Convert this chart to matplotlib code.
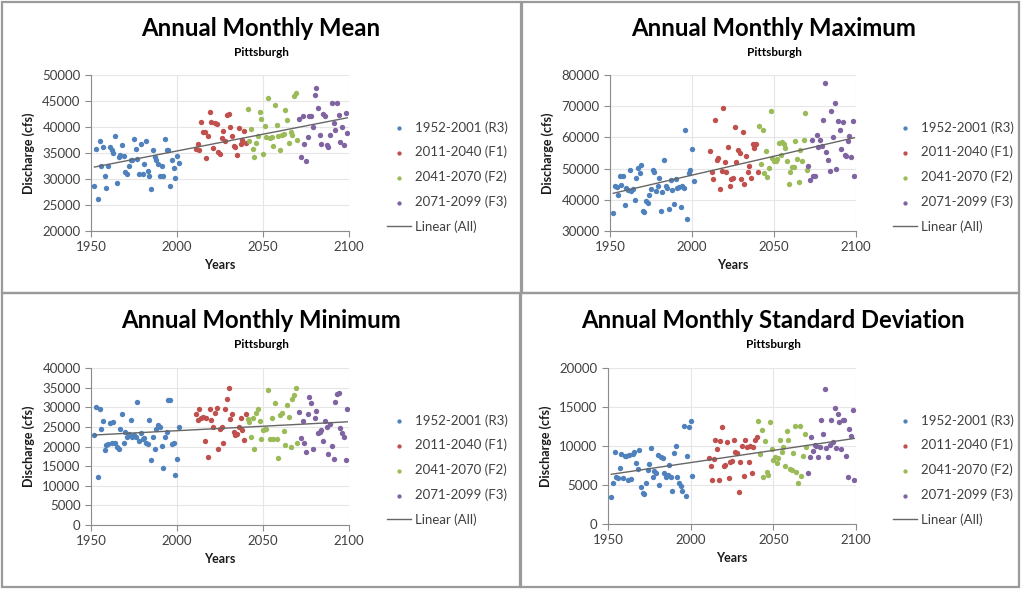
import numpy as np
import matplotlib
matplotlib.use("Agg")
from matplotlib import pyplot as plt
from matplotlib.patches import Rectangle

plt.rcParams["font.family"] = ["Lato", "DejaVu Sans"]

# years of each period
years_r3 = list(range(1952, 2002))
years_f1 = list(range(2011, 2041))
years_f2 = list(range(2041, 2071))
years_f3 = list(range(2071, 2100))

series_labels = ["1952-2001 (R3)", "2011-2040 (F1)", "2041-2070 (F2)", "2071-2099 (F3)"]

# annual monthly mean (cfs)
mean_r3 = [28630, 35770, 26200, 37370, 32580, 36150, 30670, 28310, 32580, 36150,
           35650, 35010, 38320, 29140, 34240, 34690, 36600, 34500, 31310, 31050,
           32580, 33600, 33730, 37690, 35770, 33860, 31050, 36790, 31050, 32970,
           37370, 31500, 30670, 28120, 35520, 34240, 33730, 32970, 30670, 32580,
           30540, 37690, 35520, 35520, 28630, 33730, 32070, 30220, 34500, 33000]
mean_f1 = [35770, 36730, 35650, 40880, 38960, 38960, 34050, 38320, 42790, 40880,
           35960, 40750, 40620, 35130, 34880, 37880, 39150, 37240, 42340, 42530,
           39920, 38320, 36280, 36150, 34690, 39790, 36790, 37560, 39150, 36920]
mean_f2 = [43430, 37240, 39600, 35770, 34180, 36920, 38320, 42790, 41510, 34880,
           40240, 38070, 45530, 37880, 38070, 36410, 44260, 40430, 38200, 35520,
           38520, 38710, 43300, 41260, 36920, 38960, 38520, 45980, 46620, 37560]
mean_f3 = [41510, 34240, 42150, 36790, 33410, 38070, 42150, 42150, 39980, 46170,
           47450, 43620, 38520, 36790, 42530, 42020, 36600, 36150, 38520, 44700,
           40750, 39470, 44580, 42340, 37050, 39980, 36600, 42660, 38840]

# annual monthly maximum (cfs)
max_r3 = [35630, 44360, 44040, 41380, 47760, 44890, 47760, 38180, 43820, 43080,
          49460, 42760, 43500, 39890, 47020, 50210, 48610, 51270, 36380, 36060,
          39570, 38820, 41690, 43500, 49680, 48820, 42760, 44360, 47020, 36380,
          42440, 52660, 44360, 43820, 36910, 46270, 43290, 38500, 46700, 43820,
          44140, 37760, 44570, 43820, 62230, 33930, 48610, 49460, 56270, 45950]
max_f1 = [55530, 48820, 46700, 65640, 52870, 53400, 43500, 49140, 69360, 52020,
          48820, 56910, 44360, 46700, 47020, 63190, 52020, 55850, 55000, 46700,
          61590, 45210, 54150, 48820, 50950, 47020, 57980, 56590, 57980, 48820]
max_f2 = [63720, 51590, 62440, 48610, 55530, 47330, 50210, 68620, 53400, 52340,
          52340, 53080, 58190, 54460, 58400, 57980, 56590, 52340, 45210, 48820,
          50530, 50530, 58720, 53080, 45630, 56060, 52340, 59040, 67760, 49680]
max_f3 = [50950, 46480, 59250, 47550, 47760, 60850, 56910, 59040, 57120, 65420,
          77550, 55210, 52660, 49140, 68620, 60100, 70960, 49890, 65100, 62230,
          56270, 64780, 54460, 53930, 58720, 60530, 53720, 65100, 47760]

# annual monthly minimum (cfs)
min_r3 = [22850, 30110, 12120, 29610, 24540, 26480, 19130, 20310, 20560, 25890,
          20820, 26230, 20990, 19970, 19470, 24540, 28170, 20820, 23690, 22510,
          23100, 26730, 22510, 22850, 22510, 31300, 21410, 23350, 22000, 22260,
          20990, 20560, 26730, 16590, 22510, 19470, 24540, 25380, 25040, 20140,
          14400, 22510, 23690, 31800, 31800, 20560, 20820, 12710, 16930, 25040]
min_f1 = [28170, 26730, 29610, 27330, 27580, 21410, 27330, 17440, 29610, 26730,
          25040, 28420, 29860, 19470, 24370, 25040, 20990, 29610, 32140, 34930,
          27070, 28170, 23690, 22850, 23100, 25040, 27330, 24200, 21660, 28170]
min_f2 = [26900, 26230, 22510, 27330, 19470, 28420, 29440, 26480, 22000, 24200,
          24370, 24540, 34340, 22000, 27330, 22000, 30960, 22000, 17190, 27920,
          28420, 24030, 20310, 30450, 27580, 19970, 32140, 33240, 34930, 20990]
min_f3 = [28760, 22260, 26480, 20820, 18620, 28170, 32650, 31130, 19300, 27330,
          29020, 23350, 23690, 24200, 21410, 26480, 25040, 18030, 25640, 20140,
          16930, 31300, 33500, 33660, 24790, 23520, 22510, 16590, 29440]

# annual monthly standard deviation (cfs)
std_r3 = [3510, 5310, 9290, 6080, 5870, 7150, 8990, 5870, 8740, 8740,
          5650, 8860, 5740, 8990, 9290, 7880, 7020, 9510, 4790, 3980,
          3850, 5310, 6940, 7710, 9720, 6080, 6850, 6590, 8860, 5010,
          8650, 8440, 6590, 6080, 6290, 7580, 6080, 4280, 9160, 10020,
          6000, 5220, 4880, 4280, 12590, 3600, 8740, 12420, 13150, 6170]
std_f1 = [8440, 7450, 5650, 8310, 10790, 9590, 5650, 10580, 12420, 7450,
          7580, 10450, 5950, 8010, 8140, 10790, 9290, 9160, 4150, 8010,
          10020, 6170, 10790, 9930, 8010, 10020, 6590, 9850, 10790, 11130]
std_f2 = [13150, 8990, 12080, 6080, 10580, 6720, 6290, 13020, 9590, 8220,
          8560, 7880, 8440, 10790, 9290, 9930, 7450, 11860, 10710, 7020,
          6940, 9160, 12590, 6720, 5220, 12510, 6170, 8740, 11560, 9930]
std_f3 = [6590, 8560, 11130, 9420, 10150, 10020, 8560, 9850, 13360, 11560,
          17300, 9720, 8560, 10150, 13360, 10450, 14860, 9720, 14130, 13020,
          9590, 13280, 13360, 8740, 5990, 12160, 11310, 14560, 5650]

colors = ["#4F81BD", "#C0504D", "#9BBB59", "#8064A2"]
W, H = 1021, 589
fig = plt.figure(figsize=(W / 100, H / 100), dpi=100)


def px_box(x0, y0, x1, y1):
    return [x0 / W, 1 - y1 / H, (x1 - x0) / W, (y1 - y0) / H]


def draw_panel(box, plot, ymin, ymax, ystep, title, values, legend_x):
    bx0, by0, bx1, by1 = box
    fig.patches.append(Rectangle((bx0 / W, 1 - by1 / H), (bx1 - bx0) / W, (by1 - by0) / H,
                                 transform=fig.transFigure, fill=False,
                                 edgecolor="#9a9a9a", lw=1.6))
    ax = fig.add_axes(px_box(*plot))
    years_all = [years_r3, years_f1, years_f2, years_f3]
    handles = []
    for yrs, vals, c, lab in zip(years_all, values, colors, series_labels):
        handles.append(ax.scatter(yrs, vals, s=15, color=c, label=lab, linewidths=0, zorder=3))
    xs = np.concatenate(years_all)
    ys = np.concatenate(values)
    k, b = np.polyfit(xs, ys, 1)
    xl = np.array([xs.min(), xs.max()])
    trend, = ax.plot(xl, k * xl + b, color="#666666", lw=1.0, zorder=4, label="Linear (All)")
    handles.append(trend)

    ax.set_xlim(1950, 2100)
    ax.set_ylim(ymin, ymax)
    ax.set_xticks([1950, 2000, 2050, 2100])
    ax.set_yticks(np.arange(ymin, ymax + 1, ystep))
    ax.grid(True, color="#e6e6e6", lw=0.8, zorder=0)
    ax.set_axisbelow(True)
    for s in ["top", "right"]:
        ax.spines[s].set_visible(False)
    for s in ["left", "bottom"]:
        ax.spines[s].set_color("#8c8c8c")
    ax.tick_params(colors="#8c8c8c", labelcolor="#404040", labelsize=9.5, length=4, width=0.8)
    ax.set_xlabel("Years", fontsize=9, fontweight="bold", color="#1a1a1a", labelpad=4)
    ax.set_ylabel("Discharge (cfs)", fontsize=9, fontweight="bold", color="#1a1a1a", labelpad=5)

    cx = (plot[0] + plot[2]) / 2 + 41
    fig.text(cx / W, 1 - (by0 + 27) / H, title, ha="center", va="center",
             fontsize=17.2, fontweight="bold", color="#000000")
    fig.text(cx / W, 1 - (by0 + 51) / H, "Pittsburgh", ha="center", va="center",
             fontsize=8.5, fontweight="bold", color="#000000")

    fig.legend(handles, [h.get_label() for h in handles], loc="upper left",
               bbox_to_anchor=(legend_x / W, 1 - (plot[1] + 46) / H),
               frameon=False, fontsize=9.5, labelcolor="#404040",
               handlelength=1.8, handletextpad=0.3, labelspacing=0.93,
               markerscale=0.8, borderaxespad=0, borderpad=0)
    return ax


draw_panel((2, 2, 521, 293), (91, 75, 349, 231), 20000, 50000, 5000,
           "Annual Monthly Mean", [mean_r3, mean_f1, mean_f2, mean_f3], 387)
draw_panel((522, 2, 1019, 293), (610, 75, 856, 231), 30000, 80000, 10000,
           "Annual Monthly Maximum", [max_r3, max_f1, max_f2, max_f3], 893)
draw_panel((2, 293, 520, 587), (91, 368, 349, 525), 0, 40000, 5000,
           "Annual Monthly Minimum", [min_r3, min_f1, min_f2, min_f3], 387)
draw_panel((521, 293, 1019, 587), (608, 368, 856, 524), 0, 20000, 5000,
           "Annual Monthly Standard Deviation", [std_r3, std_f1, std_f2, std_f3], 893)

fig.savefig("out.png", dpi=100)
